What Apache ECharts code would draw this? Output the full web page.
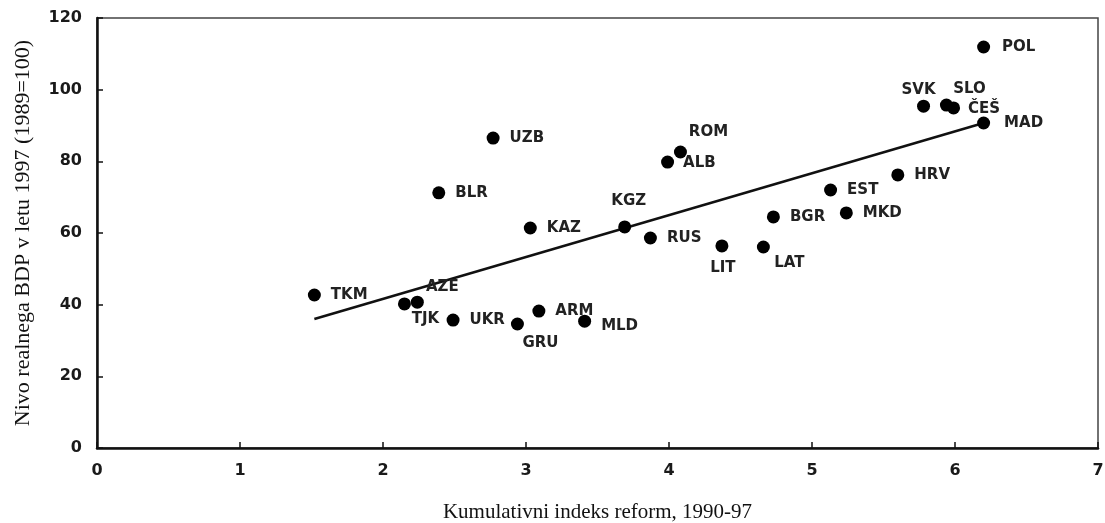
<!DOCTYPE html>
<html>
<head>
<meta charset="utf-8">
<script src="https://cdn.jsdelivr.net/npm/echarts@6/dist/echarts.min.js"></script>
<style>
  html, body { margin: 0; padding: 0; background: #fff; }
  #chart { width: 1105px; height: 523px; }
</style>
</head>
<body>
<div id="chart"></div>
<script>
// države (oznake) in vrednosti
const countries = ['POL', 'SVK', 'SLO', 'ČEŠ', 'MAD', 'HRV', 'EST', 'MKD', 'BGR', 'LIT', 'LAT', 'RUS', 'KGZ',
  'ROM', 'ALB', 'UZB', 'BLR', 'KAZ', 'TKM', 'AZE', 'TJK', 'UKR', 'GRU', 'ARM', 'MLD']
const reformIndex = [6.20, 5.78, 5.94, 5.99, 6.20, 5.60, 5.13, 5.24, 4.73, 4.37, 4.66, 3.87, 3.69,
  4.08, 3.99, 2.77, 2.39, 3.03, 1.52, 2.24, 2.15, 2.49, 2.94, 3.09, 3.41]
const gdpLevel = [111.9, 95.4, 95.7, 94.9, 90.7, 76.2, 72.0, 65.6, 64.5, 56.4, 56.1, 58.6, 61.7,
  82.6, 79.8, 86.5, 71.2, 61.4, 42.7, 40.7, 40.2, 35.7, 34.6, 38.2, 35.4]

// regresijska premica
const trendX = [1.52, 6.20]
const trendY = [36.0, 90.7]

// osi
const xTicks = [0, 1, 2, 3, 4, 5, 6, 7]
const yTicks = [0, 20, 40, 60, 80, 100, 120]

// postavitev oznak (pozicija, razdalja, zamik)
const labelPlace = {
  POL: ['right', 12, [0, 0]],
  SVK: ['top', 2, [-5, 0]],
  SLO: ['top', 2, [23, 0]],
  'ČEŠ': ['right', 8, [0, 1]],
  MAD: ['right', 14, [0, 0]],
  ROM: ['top', 2, [28, -4]],
  ALB: ['right', 9, [0, 1]],
  KGZ: ['top', 12, [4, 0]],
  LIT: ['bottom', 8, [1, 0]],
  LAT: ['bottom', 2, [26, 0]],
  AZE: ['top', 1, [25, 0]],
  TJK: ['bottom', 1, [21, 0]],
  GRU: ['bottom', 5, [23, 0]],
  MLD: ['right', 10, [0, 5]],
}

const points = countries.map((name, i) => {
  const place = labelPlace[name] || ['right', 10, [0, 0]]
  return {
    name,
    value: [reformIndex[i], gdpLevel[i]],
    label: {
      position: place[0],
      distance: place[1],
      offset: place[2],
    },
  }
})

const tickFont = {
  fontFamily: 'DejaVu Sans',
  fontSize: 16,
  fontWeight: 'bold',
  color: '#1a1a1a',
}

const option = {
  animation: false,
  backgroundColor: '#fff',
  grid: {
    left: 97,
    right: 7,
    top: 18,
    bottom: 75,
    outerBoundsMode: 'none',
    containLabel: false,
    show: true,
    borderColor: '#444',
    borderWidth: 1.5,
  },
  xAxis: {
    type: 'value',
    min: xTicks[0],
    max: xTicks[xTicks.length - 1],
    interval: 1,
    name: 'Kumulativni indeks reform, 1990-97',
    nameLocation: 'middle',
    nameGap: 54,
    nameTextStyle: {
      fontFamily: 'Liberation Serif',
      fontSize: 21,
      color: '#111',
    },
    axisLine: { show: true, onZero: false, lineStyle: { color: '#111', width: 2.5 } },
    axisTick: { show: true, inside: true, length: 6, lineStyle: { color: '#111', width: 1.5 } },
    axisLabel: { ...tickFont, margin: 15 },
    splitLine: { show: false },
  },
  yAxis: {
    type: 'value',
    min: yTicks[0],
    max: yTicks[yTicks.length - 1],
    interval: 20,
    name: 'Nivo realnega BDP v letu 1997 (1989=100)',
    nameLocation: 'middle',
    nameGap: 63,
    nameTextStyle: {
      fontFamily: 'Liberation Serif',
      fontSize: 22,
      color: '#111',
    },
    axisLine: { show: true, onZero: false, lineStyle: { color: '#111', width: 2.5 } },
    axisTick: { show: true, inside: true, length: 6, lineStyle: { color: '#111', width: 1.5 } },
    axisLabel: { ...tickFont, margin: 15 },
    splitLine: { show: false },
  },
  series: [
    {
      type: 'line',
      data: trendX.map((x, i) => [x, trendY[i]]),
      symbol: 'none',
      lineStyle: { color: '#111', width: 2.5 },
      z: 2,
    },
    {
      type: 'scatter',
      data: points,
      symbol: 'circle',
      symbolSize: 13,
      itemStyle: { color: '#000', opacity: 1 },
      label: {
        show: true,
        formatter: '{b}',
        fontFamily: 'DejaVu Sans',
        fontSize: 15,
        fontWeight: 'bold',
        color: '#222',
      },
      z: 3,
    },
  ],
}

const myEcharts = echarts.init(document.getElementById('chart'))
myEcharts.setOption(option)
</script>
</body>
</html>
